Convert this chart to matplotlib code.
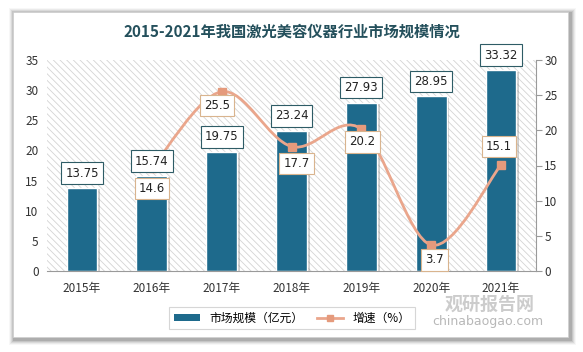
import numpy as np
import matplotlib
matplotlib.use("Agg")
import matplotlib.pyplot as plt
import matplotlib.patheffects as pe
from matplotlib.patches import Rectangle, Patch, PathPatch
from matplotlib.path import Path
from matplotlib.lines import Line2D

plt.rcParams['font.family'] = ['Noto Sans CJK SC', 'DejaVu Sans']
plt.rcParams['hatch.color'] = '#d4d4d4'
plt.rcParams['hatch.linewidth'] = 0.6

# data
years = ['2015年', '2016年', '2017年', '2018年', '2019年', '2020年', '2021年']
market = [13.75, 15.74, 19.75, 23.24, 27.93, 28.95, 33.32]
growth = [None, 14.6, 25.5, 17.7, 20.2, 3.7, 15.1]
growth_offsets = [None, (0, -20), (-5, -14), (5, -17), (1, -13), (3, -15), (-2, 18)]

bar_col = '#1e6a8c'
line_col = '#eaa68c'
marker_col = '#e59a7c'

W, H = 583, 352
fig = plt.figure(figsize=(W / 100, H / 100), dpi=100)
fig.patch.set_facecolor('white')

# card with soft shadow
for i, a in enumerate([0.03, 0.05, 0.07, 0.09, 0.12]):
    d = 6 - i
    fig.patches.append(Rectangle(((13 - d + 2) / W, (15 - d - 2) / H), (555 + 2 * d) / W, (325 + 2 * d) / H,
                                 transform=fig.transFigure, facecolor='black', alpha=a,
                                 edgecolor='none', zorder=0))
fig.patches.append(Rectangle((13 / W, 15 / H), 555 / W, 325 / H, transform=fig.transFigure,
                             facecolor='white', edgecolor='#d0d0d0', lw=0.5, zorder=1))

ax = fig.add_axes([47 / W, 1 - 271 / H, 489 / W, 211 / H])
ax.set_zorder(2)
ax.patch.set_visible(False)
x = np.arange(len(years))

ax.add_patch(Rectangle((0, 0), 1, 1, transform=ax.transAxes, facecolor='white',
                       hatch='\\\\\\\\\\', edgecolor='#d4d4d4', lw=0, zorder=0))

bars = ax.bar(x, market, width=0.44, color=bar_col, edgecolor='white', lw=1, zorder=2,
              path_effects=[pe.SimplePatchShadow(offset=(2, -1), shadow_rgbFace='#777777', alpha=0.35),
                            pe.Normal()])

ax.set_xlim(-0.5, len(years) - 0.5)
ax.set_ylim(0, 35)
ax.set_yticks(range(0, 36, 5))
ax.set_xticks(x)
ax.set_xticklabels(years, fontsize=8.5)
for s in ['top', 'left', 'right']:
    ax.spines[s].set_visible(False)
ax.spines['bottom'].set_color('#9a9a9a')
ax.tick_params(axis='y', length=0, labelsize=8.5, pad=6, colors='#333333')
ax.tick_params(axis='x', length=0, pad=8, colors='#333333')

ax2 = ax.twinx()
ax2.set_ylim(0, 30)
ax2.set_yticks(range(0, 31, 5))
ax2.tick_params(axis='y', length=4, labelsize=8.5, colors='#333333', pad=2)
for s in ['top', 'left', 'bottom']:
    ax2.spines[s].set_visible(False)
ax2.spines['right'].set_color('#9a9a9a')
ax2.tick_params(axis='y', color='#9a9a9a', labelcolor='#333333')

# smooth growth line (Catmull-Rom through the points)
gx = [xi for xi, g in zip(x, growth) if g is not None]
gy = [g for g in growth if g is not None]
pts = np.column_stack([gx, gy]).astype(float)
verts = [pts[0]]
codes = [Path.MOVETO]
n = len(pts)
for i in range(n - 1):
    p0 = pts[i - 1] if i > 0 else pts[i]
    p1, p2 = pts[i], pts[i + 1]
    p3 = pts[i + 2] if i + 2 < n else pts[i + 1]
    c1 = p1 + (p2 - p0) / 6
    c2 = p2 - (p3 - p1) / 6
    verts += [c1, c2, p2]
    codes += [Path.CURVE4] * 3
ax2.add_patch(PathPatch(Path(verts, codes), fc='none', ec=line_col, lw=2, zorder=3))
ax2.plot(gx, gy, ls='none', marker='s', ms=6, color=marker_col, zorder=4)

# bar value labels (on the bars' own data scale, drawn above the line)
for xi, v in zip(x, market):
    ax2.annotate(f'{v:.2f}', (xi, v), xycoords=ax.transData, xytext=(0, 15), textcoords='offset pixels',
                 ha='center', va='center', fontsize=8.5, family='DejaVu Sans', color='#222222', zorder=6,
                 bbox=dict(boxstyle='square,pad=0.35', fc='white', ec='#2e5c66', lw=0.8))
for xi, g, off in zip(x, growth, growth_offsets):
    if g is None:
        continue
    ax2.annotate(f'{g}', (xi, g), xytext=off, textcoords='offset pixels',
                 ha='center', va='center', fontsize=8.5, family='DejaVu Sans', color='#222222', zorder=7,
                 bbox=dict(boxstyle='square,pad=0.35', fc='white', ec='#d9b48e', lw=0.8))

fig.text(292 / W, 1 - 32 / H, '2015-2021年我国激光美容仪器行业市场规模情况', ha='center', va='center',
         fontsize=11, fontweight='bold', color='#24505c')

handles = [Patch(facecolor=bar_col, edgecolor='none'),
           Line2D([], [], color=line_col, lw=2, marker='s', ms=4, markerfacecolor=marker_col,
                  markeredgecolor=marker_col)]
leg = fig.legend(handles, ['市场规模（亿元）', '增速（%）'], loc='center', bbox_to_anchor=(292 / W, 1 - 318 / H),
                 ncol=2, fontsize=8.5, frameon=True, fancybox=False, edgecolor='#cccccc',
                 handlelength=2.2, handleheight=0.6, columnspacing=1.2, borderpad=0.4)
leg.get_frame().set_linewidth(0.8)

# watermark
fig.text(490 / W, 1 - 304 / H, '观研报告网', ha='center', va='center', fontsize=13, fontweight='bold',
         color='#9a9a9a', alpha=0.5, zorder=10)
fig.text(488 / W, 1 - 322 / H, 'chinabaogao.com', ha='center', va='center', fontsize=9,
         color='#9a9a9a', alpha=0.7, zorder=10, family='DejaVu Sans')

fig.savefig('out.png', dpi=100)
